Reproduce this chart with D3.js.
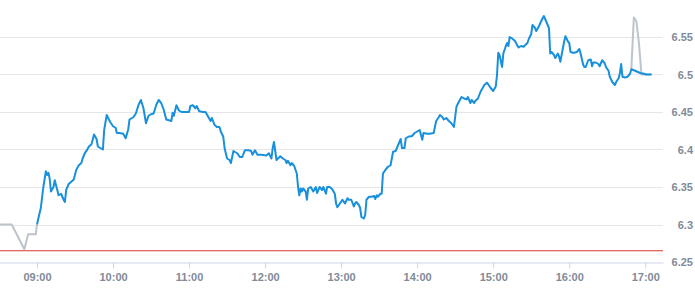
<!DOCTYPE html>
<html>
<head>
<meta charset="utf-8">
<script src="https://cdn.jsdelivr.net/npm/d3@7"></script>
<style>
  html, body { margin: 0; padding: 0; background: #fff; }
  svg { display: block; font-family: "Open Sans", sans-serif; }
  .tick text { fill: #7f8b99; font-size: 11px; font-weight: 600; }
</style>
</head>
<body>
<div id="chart"></div>
<script>
// pre-market (grey) quotes
const preTimes  = ["08:30","08:40","08:50","08:53","08:59","09:00"];
const preValues = [6.300, 6.300, 6.267, 6.287, 6.287, 6.300];

// main session (blue) quotes
const mainTimes = [
  "09:00","09:02","09:03","09:05","09:07","09:08","09:09","09:10","09:11","09:13",
  "09:14","09:16","09:17","09:19","09:21","09:22","09:23","09:25","09:27","09:29",
  "09:31","09:33","09:35","09:36","09:38","09:39","09:41","09:43","09:45","09:47",
  "09:48","09:50","09:52","09:53","09:55","09:57","09:58","10:00","10:02","10:03",
  "10:05","10:08","10:10","10:12","10:13","10:16","10:18","10:20","10:22","10:24",
  "10:26","10:28","10:30","10:32","10:34","10:36","10:38","10:40","10:42","10:44",
  "10:46","10:47","10:48","10:50","10:52","10:54","10:57","11:00","11:01","11:03",
  "11:05","11:06","11:08","11:11","11:13","11:15","11:17","11:18","11:20","11:22",
  "11:24","11:25","11:27","11:28","11:30","11:32","11:33","11:35","11:38","11:40",
  "11:42","11:44","11:47","11:49","11:50","11:52","11:54","11:57","12:01","12:03",
  "12:05","12:06","12:07","12:09","12:12","12:14","12:16","12:17","12:18","12:20",
  "12:21","12:23","12:25","12:26","12:27","12:28","12:29","12:30","12:32","12:33",
  "12:34","12:36","12:38","12:40","12:41","12:43","12:45","12:46","12:48","12:49",
  "12:51","12:53","12:55","12:56","12:57","12:59","13:01","13:03","13:05","13:06",
  "13:08","13:10","13:11","13:12","13:14","13:15","13:16","13:18","13:19","13:20",
  "13:22","13:24","13:26","13:27","13:28","13:29","13:31","13:32","13:33","13:35",
  "13:37","13:39","13:41","13:43","13:45","13:47","13:48","13:50","13:51","13:53",
  "13:56","13:58","14:01","14:02","14:04","14:05","14:08","14:10","14:13","14:15",
  "14:17","14:18","14:20","14:21","14:23","14:25","14:27","14:29","14:31","14:33",
  "14:35","14:37","14:39","14:40","14:42","14:43","14:45","14:46","14:48","14:50",
  "14:51","14:53","14:55","14:56","14:58","15:00","15:02","15:03","15:04","15:05",
  "15:07","15:08","15:10","15:11","15:12","15:13","15:15","15:17","15:18","15:20",
  "15:22","15:24","15:27","15:28","15:30","15:31","15:33","15:34","15:36","15:37",
  "15:39","15:40","15:42","15:44","15:45","15:46","15:48","15:49","15:51","15:52",
  "15:53","15:55","15:56","15:57","15:59","16:00","16:01","16:03","16:04","16:06",
  "16:08","16:09","16:11","16:12","16:13","16:15","16:17","16:18","16:19","16:21",
  "16:23","16:24","16:26","16:28","16:29","16:31","16:32","16:34","16:36","16:37",
  "16:39","16:40","16:41","16:42","16:44","16:46","16:48","16:49","16:52","16:56",
  "16:59","17:01","17:05"
];
const mainValues = [
  6.300,6.315,6.322,6.350,6.371,6.366,6.369,6.361,6.344,6.350,
  6.359,6.346,6.339,6.341,6.333,6.330,6.346,6.354,6.357,6.360,
  6.373,6.379,6.382,6.388,6.396,6.398,6.404,6.407,6.420,6.414,
  6.404,6.402,6.400,6.426,6.446,6.439,6.436,6.431,6.429,6.422,
  6.422,6.421,6.415,6.427,6.440,6.443,6.448,6.459,6.466,6.455,
  6.435,6.445,6.447,6.448,6.459,6.466,6.462,6.453,6.440,6.439,
  6.438,6.449,6.445,6.459,6.452,6.450,6.450,6.450,6.458,6.459,
  6.455,6.458,6.451,6.450,6.450,6.444,6.438,6.442,6.433,6.430,
  6.430,6.424,6.417,6.402,6.388,6.386,6.382,6.398,6.395,6.390,
  6.390,6.399,6.399,6.398,6.393,6.399,6.393,6.393,6.392,6.395,
  6.388,6.402,6.410,6.386,6.391,6.388,6.386,6.382,6.385,6.379,
  6.382,6.378,6.368,6.350,6.339,6.348,6.344,6.348,6.344,6.333,
  6.348,6.350,6.344,6.350,6.342,6.350,6.346,6.350,6.341,6.350,
  6.350,6.347,6.341,6.328,6.323,6.328,6.333,6.328,6.335,6.333,
  6.333,6.324,6.328,6.330,6.326,6.322,6.310,6.308,6.313,6.333,
  6.337,6.337,6.338,6.334,6.339,6.337,6.341,6.341,6.368,6.373,
  6.377,6.379,6.397,6.398,6.406,6.414,6.402,6.402,6.415,6.417,
  6.418,6.422,6.425,6.426,6.413,6.422,6.421,6.421,6.422,6.438,
  6.443,6.446,6.443,6.440,6.442,6.438,6.435,6.430,6.457,6.464,
  6.470,6.468,6.467,6.470,6.462,6.466,6.462,6.465,6.468,6.477,
  6.480,6.486,6.489,6.487,6.482,6.478,6.484,6.499,6.529,6.526,
  6.510,6.528,6.538,6.542,6.538,6.550,6.548,6.545,6.542,6.536,
  6.538,6.537,6.542,6.547,6.554,6.566,6.562,6.558,6.564,6.568,
  6.575,6.578,6.570,6.562,6.528,6.530,6.526,6.522,6.528,6.524,
  6.517,6.535,6.544,6.551,6.544,6.542,6.530,6.529,6.529,6.530,
  6.534,6.528,6.513,6.510,6.510,6.519,6.520,6.511,6.516,6.516,
  6.514,6.511,6.519,6.515,6.510,6.505,6.497,6.490,6.486,6.490,
  6.495,6.502,6.514,6.497,6.496,6.497,6.501,6.507,6.505,6.502,
  6.501,6.500,6.500
];

// after-hours (grey) quotes
const postTimes  = ["16:49","16:51","16:53","16:55","16:57","17:01","17:05"];
const postValues = [6.507, 6.576, 6.571, 6.542, 6.500, 6.500, 6.500];

// reference line (previous close) and axis ticks
const refValue = 6.265;
const yTicks = [6.25, 6.3, 6.35, 6.4, 6.45, 6.5, 6.55];
const xStart = "08:30", xEnd = "17:14";

const W = 695, H = 300;
const plot = {left: -1, right: 663, top: 37, bottom: 262};

const parseT = d3.timeParse("%H:%M");
const zip = (ts, vs) => ts.map((t, i) => ({t: parseT(t), v: vs[i]}));
const pre = zip(preTimes, preValues);
const main = zip(mainTimes, mainValues);
const post = zip(postTimes, postValues);

const x = d3.scaleTime()
  .domain([parseT(xStart), parseT(xEnd)])
  .range([plot.left, plot.right]);
const y = d3.scaleLinear()
  .domain([6.25, 6.55])
  .range([plot.bottom, plot.top]);

const svg = d3.select('#chart').append('svg')
  .attr('width', W).attr('height', H);

// gridlines
svg.append('g')
  .selectAll('line')
  .data(yTicks.slice(1)).join('line')
    .attr('x1', 0).attr('x2', plot.right)
    .attr('y1', d => Math.round(y(d)) + 0.5).attr('y2', d => Math.round(y(d)) + 0.5)
    .attr('stroke', '#e6e6e6');

// x axis
const xAxis = svg.append('g')
  .attr('transform', `translate(0,${plot.bottom + 0.5})`)
  .call(d3.axisBottom(x)
    .ticks(d3.timeHour.every(1))
    .tickFormat(d3.timeFormat('%H:%M'))
    .tickSize(6).tickSizeOuter(0).tickPadding(5));
xAxis.select('.domain').attr('stroke', '#ccd6eb');
xAxis.selectAll('.tick line').attr('stroke', '#ccd6eb');

// y axis labels on the right
const yAxis = svg.append('g')
  .attr('transform', `translate(693,0)`)
  .call(d3.axisLeft(y).tickValues(yTicks).tickFormat(d => String(d))
    .tickSize(0).tickPadding(0));
yAxis.select('.domain').remove();

// previous close line
svg.append('line')
  .attr('x1', 0).attr('x2', plot.right)
  .attr('y1', y(refValue)).attr('y2', y(refValue))
  .attr('stroke', '#d9362b').attr('stroke-width', 1);

const line = d3.line().x(d => x(d.t)).y(d => y(d.v));

svg.append('path').datum(pre)
  .attr('d', line).attr('fill', 'none')
  .attr('stroke', '#bcc4cc').attr('stroke-width', 2).attr('stroke-linejoin', 'round');
svg.append('path').datum(post)
  .attr('d', line).attr('fill', 'none')
  .attr('stroke', '#bcc4cc').attr('stroke-width', 2).attr('stroke-linejoin', 'round');
svg.append('path').datum(main)
  .attr('d', line).attr('fill', 'none')
  .attr('stroke', '#1890dc').attr('stroke-width', 2).attr('stroke-linejoin', 'round');
</script>
</body>
</html>
